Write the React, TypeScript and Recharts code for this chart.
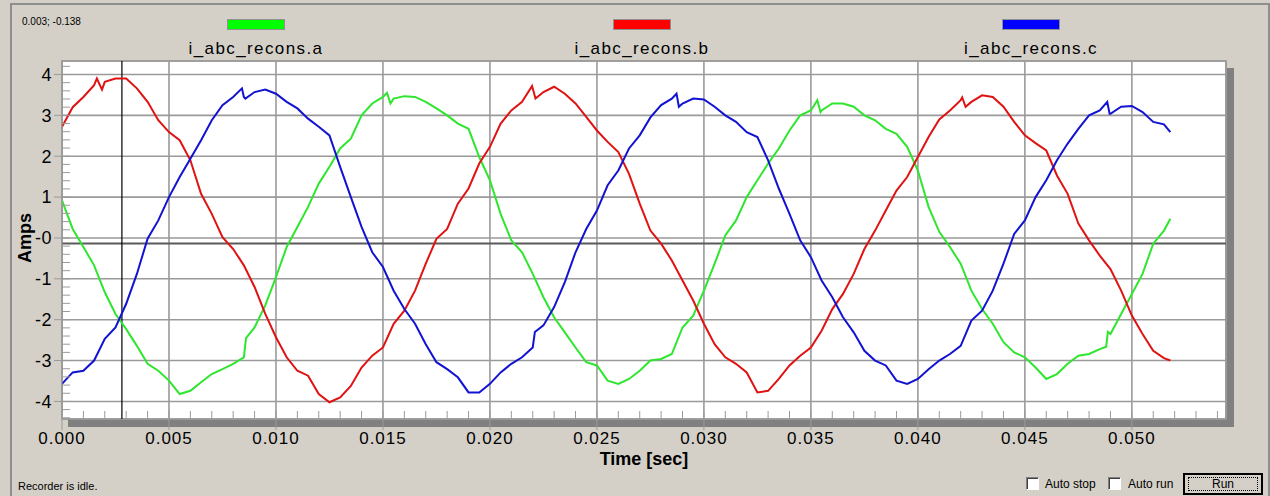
import React from 'react';
import {
  LineChart,
  Line,
  XAxis,
  YAxis,
  CartesianGrid,
  ReferenceLine,
  ReferenceArea,
} from 'recharts';

// ---- data (time in milliseconds, currents in amps) ----
const TIME_MS = [
  0, 0.5, 1, 1.5, 2, 2.5, 3, 3.5, 4, 4.5, 5, 5.5, 6, 6.5, 7, 7.5, 8, 8.5, 9, 9.5,
  10, 10.5, 11, 11.5, 12, 12.5, 13, 13.5, 14, 14.5, 15, 15.5, 16, 16.5, 17, 17.5, 18, 18.5, 19, 19.5,
  20, 20.5, 21, 21.5, 22, 22.5, 23, 23.5, 24, 24.5, 25, 25.5, 26, 26.5, 27, 27.5, 28, 28.5, 29, 29.5,
  30, 30.5, 31, 31.5, 32, 32.5, 33, 33.5, 34, 34.5, 35, 35.5, 36, 36.5, 37, 37.5, 38, 38.5, 39, 39.5,
  40, 40.5, 41, 41.5, 42, 42.5, 43, 43.5, 44, 44.5, 45, 45.5, 46, 46.5, 47, 47.5, 48, 48.5, 49, 49.5,
  50, 50.5, 51, 51.5, 51.8,
];

const PHASE_A = [
  0.92, 0.22, -0.22, -0.67, -1.33, -1.86, -2.23, -2.64, -3.08, -3.25, -3.49, -3.82, -3.74, -3.53, -3.33, -3.21, -3.08, -2.92, -2.19, -1.65,
  -0.96, -0.22, 0.27, 0.76, 1.33, 1.74, 2.19, 2.43, 3.0, 3.29, 3.45, 3.41, 3.47, 3.45, 3.33, 3.17, 3.0, 2.8, 2.67, 1.98,
  1.41, 0.59, -0.06, -0.35, -0.88, -1.45, -1.94, -2.31, -2.68, -3.04, -3.12, -3.49, -3.57, -3.45, -3.25, -3.0, -2.96, -2.84, -2.19, -1.9,
  -1.29, -0.63, 0.06, 0.43, 1.0, 1.41, 1.82, 2.19, 2.63, 3.0, 3.12, 3.12, 3.29, 3.29, 3.21, 3.0, 2.88, 2.67, 2.55, 2.23,
  1.65, 0.76, 0.15, -0.22, -0.63, -1.29, -1.74, -2.1, -2.55, -2.8, -2.92, -3.17, -3.45, -3.33, -3.08, -2.88, -2.84, -2.72, -2.35, -1.86,
  -1.37, -0.88, -0.14, 0.18, 0.47,
];

const PHASE_B = [
  2.72, 3.2, 3.45, 3.74, 3.82, 3.9, 3.9, 3.66, 3.33, 2.88, 2.59, 2.39, 1.9, 1.08, 0.59, 0.02, -0.27, -0.67, -1.2, -1.86,
  -2.43, -2.92, -3.25, -3.37, -3.82, -4.02, -3.9, -3.62, -3.17, -2.88, -2.68, -2.1, -1.78, -1.29, -0.63, -0.02, 0.22, 0.84, 1.21, 1.82,
  2.23, 2.8, 3.12, 3.33, 3.66, 3.57, 3.7, 3.53, 3.29, 2.96, 2.63, 2.35, 2.1, 1.57, 0.84, 0.18, -0.14, -0.55, -1.04, -1.53,
  -2.1, -2.6, -2.92, -3.08, -3.29, -3.78, -3.74, -3.45, -3.12, -2.88, -2.68, -2.27, -1.74, -1.37, -0.88, -0.27, 0.18, 0.67, 1.16, 1.49,
  1.98, 2.47, 2.9, 3.12, 3.37, 3.33, 3.49, 3.45, 3.21, 2.84, 2.51, 2.32, 2.14, 1.53, 1.08, 0.35, -0.06, -0.43, -0.76, -1.29,
  -1.9, -2.35, -2.76, -2.94, -3.0,
];

const PHASE_C = [
  -3.57, -3.29, -3.25, -3.0, -2.47, -2.19, -1.61, -0.88, -0.02, 0.43, 1.0, 1.49, 1.94, 2.39, 2.88, 3.25, 3.45, 3.45, 3.57, 3.63,
  3.53, 3.33, 3.17, 2.92, 2.72, 2.51, 1.74, 1.0, 0.27, -0.35, -0.71, -1.29, -1.74, -2.1, -2.6, -3.04, -3.21, -3.41, -3.78, -3.78,
  -3.57, -3.29, -3.08, -2.92, -2.68, -2.14, -1.69, -1.08, -0.35, 0.22, 0.67, 1.29, 1.65, 2.19, 2.51, 2.95, 3.25, 3.41, 3.29, 3.41,
  3.39, 3.21, 3.0, 2.84, 2.59, 2.47, 1.9, 1.21, 0.59, -0.06, -0.47, -1.04, -1.45, -1.94, -2.31, -2.76, -3.0, -3.12, -3.49, -3.57,
  -3.45, -3.21, -3.0, -2.84, -2.64, -2.02, -1.78, -1.29, -0.63, 0.1, 0.43, 1.0, 1.41, 1.9, 2.31, 2.67, 3.0, 3.12, 3.04, 3.21,
  3.23, 3.08, 2.84, 2.78, 2.59,
];

// short glitches / steps: [time ms, amps]
const GLITCH_A = [[8.6, -2.45], [15.19, 3.55], [15.35, 3.29], [35.3, 3.37], [35.45, 3.08], [48.8, -2.66], [48.88, -2.3]];
const GLITCH_B = [[1.63, 3.9], [1.87, 3.63], [21.97, 3.72], [22.13, 3.41], [42.07, 3.44], [42.23, 3.21]];
const GLITCH_C = [[8.41, 3.66], [8.57, 3.41], [22.1, -2.3], [28.72, 3.53], [28.83, 3.21], [48.85, 3.33], [48.96, 3.04]];

const SERIES_NAMES = ['i_abc_recons.a', 'i_abc_recons.b', 'i_abc_recons.c'];
const LINE_COLORS = ['#2ee62e', '#e01212', '#1212d2'];
const LEGEND_COLORS = ['#00ff00', '#ff0000', '#0000ff'];

const X_TICKS = [0, 0.005, 0.01, 0.015, 0.02, 0.025, 0.03, 0.035, 0.04, 0.045, 0.05];
const Y_TICKS = [-4, -3, -2, -1, 0, 1, 2, 3, 4];
const X_DOMAIN: [number, number] = [0, 0.0544];
const Y_DOMAIN: [number, number] = [-4.43, 4.33];

const CURSOR_T = 0.0028;
const CURSOR_V = -0.138;
const CURSOR_TEXT = '0.003; -0.138';
const STATUS_TEXT = 'Recorder is idle.';

// minor tick positions (axis decoration)
const X_MINOR = Array.from({ length: 54 }, (_, i) => +((i + 1) * 0.001).toFixed(3));
const Y_MINOR = Array.from({ length: 44 }, (_, i) => +(-4.4 + i * 0.2).toFixed(1));

function buildSeries(values: number[], glitches: number[][]) {
  const pts = TIME_MS.map((t, i) => ({ t: t / 1000, v: values[i] }));
  glitches.forEach(([t, v]) => pts.push({ t: t / 1000, v }));
  return pts.sort((p, q) => p.t - q.t);
}

const SERIES = [
  buildSeries(PHASE_A, GLITCH_A),
  buildSeries(PHASE_B, GLITCH_B),
  buildSeries(PHASE_C, GLITCH_C),
];

const FONT = 'Arial, "Liberation Sans", sans-serif';
const BG = '#d4d0c8';
const GRID = '#9a9a9a';

const checkbox: React.CSSProperties = {
  position: 'absolute',
  width: 11,
  height: 11,
  background: '#fff',
  borderTop: '1px solid #808080',
  borderLeft: '1px solid #808080',
  borderRight: '1px solid #fff',
  borderBottom: '1px solid #fff',
  boxShadow: 'inset 1px 1px 0 #404040',
};

export default function App() {
  return (
    <div
      style={{
        position: 'fixed',
        left: 0,
        top: 0,
        width: 1270,
        height: 496,
        background: BG,
        overflow: 'hidden',
        fontFamily: FONT,
      }}
    >
      {/* window frame */}
      <div
        style={{
          position: 'absolute',
          left: 10,
          top: 3,
          width: 1256,
          height: 500,
          borderTop: '2px solid #8e8e8e',
          borderLeft: '2px solid #8e8e8e',
          borderRight: '2px solid #8e8e8e',
        }}
      />
      {/* cursor readout */}
      <div style={{ position: 'absolute', left: 22, top: 16, fontSize: 10, lineHeight: '12px', color: '#000' }}>
        {CURSOR_TEXT}
      </div>
      {/* legend */}
      {SERIES_NAMES.map((name, i) => {
        const cx = [256, 642, 1031][i];
        return (
          <React.Fragment key={name}>
            <div
              style={{
                position: 'absolute',
                left: cx - 29,
                top: 19,
                width: 56,
                height: 9,
                background: LEGEND_COLORS[i],
                border: '1px solid #909090',
              }}
            />
            <div
              style={{
                position: 'absolute',
                left: cx - 150,
                width: 300,
                top: 39,
                textAlign: 'center',
                fontSize: 17,
                letterSpacing: 1.4,
                lineHeight: '20px',
                color: '#000',
              }}
            >
              {name}
            </div>
          </React.Fragment>
        );
      })}
      {/* plot shadow */}
      <div style={{ position: 'absolute', left: 68, top: 419, width: 1166, height: 8, background: '#808080' }} />
      <div style={{ position: 'absolute', left: 1226, top: 68, width: 8, height: 359, background: '#808080' }} />

      <div style={{ position: 'absolute', left: 0, top: 0 }}>
        <LineChart width={1270} height={496} margin={{ top: 61, right: 44, bottom: 37, left: 0 }}>
          <CartesianGrid fill="#ffffff" stroke={GRID} strokeWidth={1.6} horizontal vertical />
          <XAxis
            dataKey="t"
            type="number"
            domain={X_DOMAIN}
            ticks={X_TICKS}
            allowDataOverflow
            height={40}
            tickSize={11}
            tickMargin={2}
            tickFormatter={(v: number) => v.toFixed(3)}
            tick={{ fill: '#000', fontSize: 17, fontFamily: FONT, letterSpacing: 1 }}
            tickLine={{ stroke: GRID }}
            axisLine={false}
            interval={0}
          />
          <XAxis
            xAxisId="minor"
            dataKey="t"
            type="number"
            domain={X_DOMAIN}
            ticks={X_MINOR}
            allowDataOverflow
            mirror
            tickSize={8}
            tickFormatter={() => ''}
            tickLine={{ stroke: GRID }}
            axisLine={false}
            interval={0}
          />
          <YAxis
            type="number"
            domain={Y_DOMAIN}
            ticks={Y_TICKS}
            allowDataOverflow
            width={62}
            tickSize={8}
            tickMargin={2}
            tickFormatter={(v: number) => (v === 0 ? '-0' : String(v))}
            tick={{ fill: '#000', fontSize: 18, fontFamily: FONT, letterSpacing: 0.5 }}
            tickLine={{ stroke: GRID }}
            axisLine={{ stroke: GRID }}
            interval={0}
          />
          <YAxis
            yAxisId="minor"
            type="number"
            domain={Y_DOMAIN}
            ticks={Y_MINOR}
            allowDataOverflow
            mirror
            width={62}
            tickSize={8}
            tickFormatter={() => ''}
            tickLine={{ stroke: GRID }}
            axisLine={false}
            interval={0}
          />
          <ReferenceArea
            x1={X_DOMAIN[0]}
            x2={X_DOMAIN[1]}
            y1={Y_DOMAIN[0]}
            y2={Y_DOMAIN[1]}
            fill="none"
            stroke={GRID}
            strokeWidth={1.6}
            ifOverflow="visible"
          />
          <ReferenceLine y={CURSOR_V} stroke="#5a5a5a" strokeWidth={2} ifOverflow="visible" />
          <ReferenceLine x={CURSOR_T} stroke="#000" strokeWidth={1.2} ifOverflow="visible" />
          {SERIES.map((pts, i) => (
            <Line
              key={SERIES_NAMES[i]}
              data={pts}
              dataKey="v"
              name={SERIES_NAMES[i]}
              type="linear"
              stroke={LINE_COLORS[i]}
              strokeWidth={2}
              dot={false}
              isAnimationActive={false}
            />
          ))}
        </LineChart>
      </div>

      {/* axis titles */}
      <div
        style={{
          position: 'absolute',
          left: 544,
          width: 200,
          top: 449,
          textAlign: 'center',
          fontSize: 18,
          fontWeight: 'bold',
          lineHeight: '20px',
          color: '#000',
        }}
      >
        Time [sec]
      </div>
      <div
        style={{
          position: 'absolute',
          left: 25,
          top: 238,
          transform: 'translate(-50%, -50%) rotate(-90deg)',
          fontSize: 18,
          fontWeight: 'bold',
          lineHeight: '20px',
          color: '#000',
          whiteSpace: 'nowrap',
        }}
      >
        Amps
      </div>

      {/* status bar */}
      <div style={{ position: 'absolute', left: 18, top: 480, fontSize: 11, lineHeight: '13px', color: '#000' }}>
        {STATUS_TEXT}
      </div>
      <div style={{ ...checkbox, left: 1026, top: 477 }} />
      <div style={{ position: 'absolute', left: 1045, top: 477, fontSize: 12, lineHeight: '14px', color: '#000' }}>Auto stop</div>
      <div style={{ ...checkbox, left: 1108, top: 477 }} />
      <div style={{ position: 'absolute', left: 1128, top: 477, fontSize: 12, lineHeight: '14px', color: '#000' }}>Auto run</div>
      <div
        style={{
          position: 'absolute',
          left: 1183,
          top: 473,
          width: 76,
          height: 18,
          border: '2px solid #000',
          background: BG,
        }}
      >
        <div
          style={{
            position: 'absolute',
            left: 3,
            top: 2,
            right: 3,
            bottom: 2,
            border: '1px dotted #000',
            textAlign: 'center',
            fontSize: 12,
            lineHeight: '12px',
            color: '#000',
          }}
        >
          Run
        </div>
      </div>
    </div>
  );
}
